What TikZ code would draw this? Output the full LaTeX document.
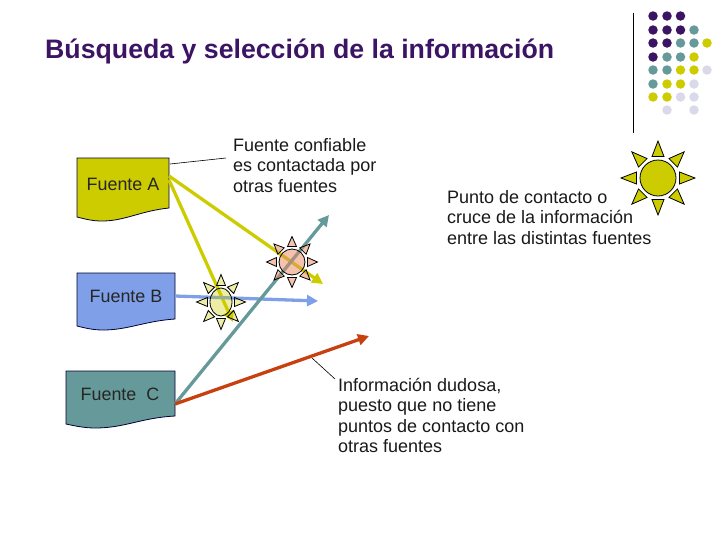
\documentclass[tikz,border=0pt]{standalone}
\usepackage{fontspec}
\setmainfont{Liberation Sans}
\usetikzlibrary{arrows.meta}
\definecolor{purp}{HTML}{3C1464}
\definecolor{teal1}{HTML}{669999}
\definecolor{yel}{HTML}{CCCC00}
\definecolor{lav}{HTML}{D9D9EA}
\definecolor{blu}{HTML}{7F9FE8}
\definecolor{red1}{HTML}{C8400F}
\definecolor{salmon1}{HTML}{E88860}
\tikzset{
  x=1pt,y=-1pt,
  doc/.style={draw=black!80!blue,line width=.8pt},
  lbl/.style={font=\fontsize{18}{20.5}\selectfont,align=left,anchor=north west,inner sep=0pt,text=black!90},
  boxlbl/.style={font=\fontsize{17.9}{18}\selectfont,inner sep=0pt,text=black!85},
  conn/.style={line width=3.3pt,-{Triangle[length=11pt,width=11pt]}},
  lead/.style={line width=.6pt,draw=black},
  dotp/.style={circle,fill=purp,minimum size=9.5pt,inner sep=0pt},
  dott/.style={circle,fill=teal1,minimum size=9.5pt,inner sep=0pt},
  doty/.style={circle,fill=yel,minimum size=9.5pt,inner sep=0pt},
  dotl/.style={circle,fill=lav,minimum size=9.5pt,inner sep=0pt},
}
% \sunshape{cx}{cy}{rx}{ry}{raybase}{raytip}{halfwidth}{colour}{opacity}
\newcommand{\sunshape}[9]{%
  \begin{scope}[shift={(#1,#2)}]
    \foreach \a in {0,45,...,315}{
      \draw[draw=black,line width=.8pt,fill=#8,fill opacity=#9]
        ({(#3+#5)*cos(\a)+#7*sin(\a)},{(#4+#5)*sin(\a)-#7*cos(\a)})
        -- ({(#3+#6)*cos(\a)},{(#4+#6)*sin(\a)})
        -- ({(#3+#5)*cos(\a)-#7*sin(\a)},{(#4+#5)*sin(\a)+#7*cos(\a)}) -- cycle;
    }
    \draw[draw=black,line width=.8pt,fill=#8,fill opacity=#9] (0,0) ellipse [x radius=#3,y radius=#4];
  \end{scope}}
\begin{document}
\begin{tikzpicture}
\useasboundingbox (0,0) rectangle (728,546);
\node[anchor=base west,inner sep=0pt,font=\fontsize{26.7}{30}\bfseries\selectfont,text=purp] (title) at (45,58) {Búsqueda y selección de la información};
\draw[line width=1pt] (633,13) -- (633,133);
% bullets
\foreach \x/\y/\s in {653/16/dotp,667/16/dotp,680.5/16/dotp,
 653/30/dotp,667/30/dotp,680.5/30/dotp,694/30/dott,
 653/43/dotp,667/43/dotp,680.5/43/dott,694/43/dott,707/43/doty,
 653/57/dotp,667/57/dott,680.5/57/dott,694/57/doty,
 653/70/dott,667/70/dott,680.5/70/doty,694/70/doty,707/70/dotl,
 653/84/dott,667/84/doty,680.5/84/doty,694/84/dotl,
 653/97/doty,667/97/doty,680.5/97/dotl,694/97/dotl,
 667/110/dotl,694/110/dotl}
  \node[\s] at (\x,\y) {};
% documents
\draw[doc,fill=yel] (77,158) -- (169,158) -- (169,208) .. controls (140,211) and (125,221) .. (102,221) .. controls (92,221) and (85,219) .. (77,217) -- cycle;
\draw[doc,fill=blu] (77,273) -- (175,273) -- (175,319) .. controls (145,321) and (128,330) .. (103,330) .. controls (93,330) and (85,328) .. (77,326) -- cycle;
\draw[doc,fill=teal1] (66,371) -- (175,371) -- (175,416) .. controls (140,418) and (125,428) .. (95,428) .. controls (85,428) and (75,426) .. (66,424) -- cycle;
\node[boxlbl] (fa) at (123,184) {Fuente A};
\node[boxlbl] (fb) at (126,296) {Fuente B};
\node[boxlbl] (fc) at (120,394) {Fuente\ \ C};
% connector ends
\coordinate (fa1) at (169,176);
\coordinate (fa2) at (169,180);
\coordinate (fb1) at (175,296);
\coordinate (fc1) at (175,404);
\coordinate (e1) at (323,284);
\coordinate (e2) at (233,322);
\coordinate (e3) at (318,301);
\coordinate (e4) at (329,215);
\coordinate (e5) at (369,336);
\draw[conn,yel] (fa1) -- (e1);
\draw[conn,yel] (fa2) -- (e2);
\draw[conn,blu] (fb1) -- (e3);
\draw[conn,teal1] (fc1) -- (e4);
\draw[conn,red1] (fc1) -- (e5);
% suns
\sunshape{658}{178}{18}{18}{3.5}{19}{6}{yel}{1}
\sunshape{292}{262}{13}{13}{2.5}{12.5}{4.5}{salmon1}{.5}
\sunshape{221}{302}{11}{14}{2.5}{13.5}{4.5}{yel}{.35}
% leaders and texts
\node[lbl] (t1) at (233,138) {Fuente confiable\\es contactada por\\otras fuentes};
\node[lbl] (t2) at (447,190) {Punto de contacto o\\cruce de la información\\entre las distintas fuentes};
\node[lbl] (t3) at (338,378) {Información dudosa,\\puesto que no tiene\\puntos de contacto con\\otras fuentes};
\coordinate (l1a) at (170,164);
\coordinate (l1b) at (226,158);
\coordinate (l2a) at (312,358);
\coordinate (l2b) at (335,379);
\draw[lead] (l1a) -- (l1b);
\draw[lead] (l2a) -- (l2b);
\end{tikzpicture}
\end{document}
